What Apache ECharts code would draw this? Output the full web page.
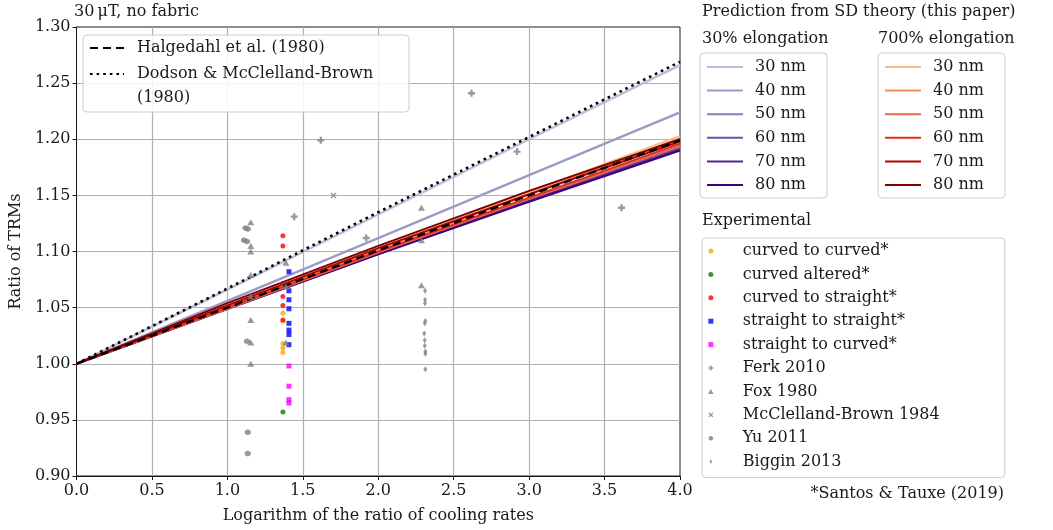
<!DOCTYPE html>
<html>
<head>
<meta charset="utf-8">
<script src="https://cdn.jsdelivr.net/npm/echarts@6/dist/echarts.min.js"></script>
<style>html,body{margin:0;padding:0;background:#fff}#c{width:1053px;height:530px}</style>
</head>
<body>
<div id="c"></div>
<script>
// ---------- DATA ----------
const lineX = [0, 1, 2, 3, 4];
const halgedahl = [1.000, 1.050, 1.101, 1.150, 1.199];
const dodson = [1.000, 1.067, 1.135, 1.202, 1.269];
const sizeLabels = ['30 nm', '40 nm', '50 nm', '60 nm', '70 nm', '80 nm'];
const e30_30 = [1.000, 1.066, 1.133, 1.200, 1.266];
const e30_40 = [1.000, 1.056, 1.112, 1.168, 1.224];
const e30_50 = [1.000, 1.0495, 1.0990, 1.1465, 1.1930];
const e30_60 = [1.000, 1.0492, 1.0985, 1.1458, 1.1920];
const e30_70 = [1.000, 1.0490, 1.0980, 1.1450, 1.1910];
const e30_80 = [1.000, 1.0488, 1.0975, 1.1442, 1.1900];
const e700_30 = [1.000, 1.051, 1.102, 1.153, 1.203];
const e700_40 = [1.000, 1.051, 1.101, 1.151, 1.201];
const e700_50 = [1.000, 1.049, 1.099, 1.147, 1.194];
const e700_60 = [1.000, 1.050, 1.100, 1.148, 1.196];
const e700_70 = [1.000, 1.052, 1.103, 1.151, 1.198];
const e700_80 = [1.000, 1.054, 1.105, 1.154, 1.200];

const curvedToCurved = [[1.368, 1.045], [1.368, 1.038], [1.368, 1.018], [1.368, 1.014], [1.368, 1.010]];
const curvedAltered = [[1.368, 0.957]];
const curvedToStraight = [[1.368, 1.114], [1.368, 1.105], [1.368, 1.060], [1.368, 1.052], [1.368, 1.039]];
const straightToStraight = [[1.408, 1.082], [1.408, 1.065], [1.408, 1.057], [1.408, 1.049], [1.408, 1.036], [1.408, 1.030], [1.408, 1.026], [1.408, 1.017]];
const straightToCurved = [[1.408, 0.998], [1.408, 0.980], [1.408, 0.968], [1.408, 0.965]];
const ferk2010 = [[1.443, 1.131], [1.619, 1.199], [1.920, 1.112], [2.618, 1.241], [2.920, 1.189], [3.613, 1.139]];
const fox1980 = [[1.155, 1.126], [1.155, 1.105], [1.155, 1.100], [1.155, 1.079], [1.155, 1.060], [1.155, 1.039], [1.155, 1.019], [1.155, 1.000],
                 [1.388, 1.090], [1.388, 1.069], [1.388, 1.019], [2.286, 1.139], [2.286, 1.110], [2.286, 1.070]];
const mcclellandBrown1984 = [[1.703, 1.150]];
const yu2011 = [[1.120, 1.121], [1.135, 1.120], [1.130, 1.109], [1.110, 1.110], [1.130, 1.020], [1.135, 0.939], [1.135, 0.920]];
const biggin2013 = [[2.310, 1.065], [2.310, 1.057], [2.310, 1.054], [2.312, 1.038], [2.308, 1.036], [2.305, 1.027], [2.308, 1.021],
                    [2.308, 1.016], [2.312, 1.011], [2.312, 1.009], [2.312, 0.995]];
const xTicks = { min: 0, max: 4, step: 0.5 };
const yTicks = { min: 0.9, max: 1.3, step: 0.05 };

// ---------- CHART ----------
const FONT = "'DejaVu Serif', 'Liberation Serif', serif";
const FS = 16;
const INK = '#1a1a1a';
const purples = ['#bcbddc', '#9e9ac8', '#807dba', '#6a51a3', '#54278f', '#3f007d'];
const orrd = ['#fdbb84', '#fc8d59', '#ef6548', '#d7301f', '#b30000', '#7f0000'];
const e30 = [e30_30, e30_40, e30_50, e30_60, e30_70, e30_80];
const e700 = [e700_30, e700_40, e700_50, e700_60, e700_70, e700_80];
const pair = arr => lineX.map((x, i) => [x, arr[i]]);

const series = [];
const n30 = [], n700 = [];
e30.forEach((arr, i) => {
  const name = sizeLabels[i] + ' ';
  n30.push(name);
  series.push({ name, type: 'line', data: pair(arr), symbol: 'none', showSymbol: false, lineStyle: { color: purples[i], width: i < 2 ? 2.4 : 2 }, itemStyle: { color: purples[i] }, z: 2 });
});
e700.forEach((arr, i) => {
  const name = sizeLabels[i];
  n700.push(name);
  series.push({ name, type: 'line', data: pair(arr), symbol: 'none', showSymbol: false, lineStyle: { color: orrd[i], width: 2 }, itemStyle: { color: orrd[i] }, z: 3 });
});
series.push({ name: 'Halgedahl et al. (1980)', type: 'line', data: pair(halgedahl), symbol: 'none', showSymbol: false,
  lineStyle: { color: '#000', width: 2.4, type: [8, 5] }, itemStyle: { color: '#000' }, z: 4 });
series.push({ name: 'Dodson & McClelland-Brown (1980)', type: 'line', data: pair(dodson), symbol: 'none', showSymbol: false,
  lineStyle: { color: '#000', width: 2.6, type: [2.6, 4] }, itemStyle: { color: '#000' }, z: 4 });

const P_SQ = 'path://M0,0H1V1H0Z';
const P_TRI = 'path://M1,0L2,1.75L0,1.75Z';
const P_PLUS = 'path://M2,0H4V2H6V4H4V6H2V4H0V2H2Z';
const P_X = 'path://M0,1L1,0L3,2L5,0L6,1L4,3L6,5L5,6L3,4L1,6L0,5L2,3Z';
const P_HEX = 'path://M1,0L1.87,0.5L1.87,1.5L1,2L0.13,1.5L0.13,0.5Z';
const P_THIN = 'path://M1,0L1.7,1.5L1,3L0.3,1.5Z';
const scat = (name, data, color, symbol, size) => ({ name, type: 'scatter', data, symbol, symbolSize: size, itemStyle: { color }, z: 5 });
const expNames = ['curved to curved*', 'curved altered*', 'curved to straight*', 'straight to straight*', 'straight to curved*',
  'Ferk 2010', 'Fox 1980', 'McClelland-Brown 1984', 'Yu 2011', 'Biggin 2013'];
series.push(scat(expNames[0], curvedToCurved, '#ffa500', 'circle', 5));
series.push(scat(expNames[1], curvedAltered, '#008000', 'circle', 5));
series.push(scat(expNames[2], curvedToStraight, '#ff0000', 'circle', 5));
series.push(scat(expNames[3], straightToStraight, '#0000ff', P_SQ, 5));
series.push(scat(expNames[4], straightToCurved, '#ff00ff', P_SQ, 5));
series.push(scat(expNames[5], ferk2010, '#808080', P_PLUS, 7));
series.push(scat(expNames[6], fox1980, '#808080', P_TRI, [7, 6]));
series.push(scat(expNames[7], mcclellandBrown1984, '#808080', P_X, 6));
series.push(scat(expNames[8], yu2011, '#808080', P_HEX, 6));
series.push(scat(expNames[9], biggin2013, '#808080', P_THIN, [4, 6]));

const legendBase = {
  orient: 'vertical', selectedMode: false, backgroundColor: 'rgba(255,255,255,0.85)',
  borderColor: '#cccccc', borderWidth: 1, borderRadius: 4
};
const txt = (w, pl) => ({ fontFamily: FONT, fontSize: FS, color: INK, lineHeight: 18, width: w, padding: [0, 0, 0, pl] });

const option = {
  animation: false,
  backgroundColor: '#fff',
  textStyle: { fontFamily: FONT },
  grid: { left: 74, top: 27, width: 606, height: 449, show: true, borderColor: INK, borderWidth: 1, containLabel: false },
  xAxis: {
    type: 'value', min: xTicks.min, max: xTicks.max, interval: xTicks.step,
    name: 'Logarithm of the ratio of cooling rates', nameLocation: 'middle', nameGap: 32,
    nameTextStyle: { fontFamily: FONT, fontSize: FS, color: INK },
    axisLine: { show: true, lineStyle: { color: INK, width: 1 } },
    axisTick: { show: true, length: 4, lineStyle: { color: INK } },
    axisLabel: { formatter: v => v.toFixed(1), fontFamily: FONT, fontSize: FS, color: INK, margin: 7 },
    splitLine: { show: true, showMinLine: false, showMaxLine: false, lineStyle: { color: '#b0b0b0', width: 1.2 } }
  },
  yAxis: {
    type: 'value', min: yTicks.min, max: yTicks.max, interval: yTicks.step,
    name: 'Ratio of TRMs', nameLocation: 'middle', nameGap: 49, nameRotate: 90,
    nameTextStyle: { fontFamily: FONT, fontSize: FS, color: INK },
    axisLine: { show: true, lineStyle: { color: INK, width: 1 } },
    axisTick: { show: true, length: 4, lineStyle: { color: INK } },
    axisLabel: { formatter: v => v.toFixed(2), fontFamily: FONT, fontSize: FS, color: INK, margin: 6 },
    splitLine: { show: true, showMinLine: false, showMaxLine: false, lineStyle: { color: '#b0b0b0', width: 1.2 } }
  },
  legend: [
    Object.assign({}, legendBase, {
      data: ['Halgedahl et al. (1980)', 'Dodson & McClelland-Brown (1980)'],
      formatter: n => n.startsWith('Dodson') ? 'Dodson & McClelland-Brown' : n,
      left: 83, top: 35, itemWidth: 34, itemHeight: 12, itemGap: 8,
      itemStyle: { opacity: 0 },
      padding: [4, 8, 29, 6], textStyle: txt(264, 8)
    }),
    Object.assign({}, legendBase, {
      data: n30, left: 700, top: 53, itemWidth: 36, itemHeight: 14, itemGap: 5.6,
      itemStyle: { opacity: 0 },
      padding: [5, 8, 4, 6], textStyle: txt(64, 7)
    }),
    Object.assign({}, legendBase, {
      data: n700, left: 878, top: 53, itemWidth: 36, itemHeight: 14, itemGap: 5.6,
      itemStyle: { opacity: 0 },
      padding: [5, 8, 4, 6], textStyle: txt(64, 7)
    }),
    Object.assign({}, legendBase, {
      data: expNames,
      left: 702, top: 238, itemWidth: 30, itemHeight: 5, itemGap: 5.4,
      padding: [4, 8, 7, 6], textStyle: txt(254, 12)
    })
  ],
  graphic: [
    { type: 'text', left: 74, top: 4, style: { text: '30\u2009\u03BCT, no fabric', font: FS + 'px ' + FONT, fill: INK } },
    { type: 'text', left: 137, top: 90, z: 100, style: { text: '(1980)', font: FS + 'px ' + FONT, fill: INK } },
    { type: 'text', left: 702, top: 4, style: { text: 'Prediction from SD theory (this paper)', font: FS + 'px ' + FONT, fill: INK } },
    { type: 'text', left: 702, top: 31, style: { text: '30% elongation', font: FS + 'px ' + FONT, fill: INK } },
    { type: 'text', left: 878, top: 31, style: { text: '700% elongation', font: FS + 'px ' + FONT, fill: INK } },
    { type: 'text', left: 702, top: 213, style: { text: 'Experimental', font: FS + 'px ' + FONT, fill: INK } },
    { type: 'text', right: 49, top: 486, style: { text: '*Santos & Tauxe (2019)', font: FS + 'px ' + FONT, fill: INK } }
  ],
  series
};
const chart = echarts.init(document.getElementById('c'), null, { renderer: 'canvas', width: 1053, height: 530 });
chart.setOption(option);
</script>
</body>
</html>
